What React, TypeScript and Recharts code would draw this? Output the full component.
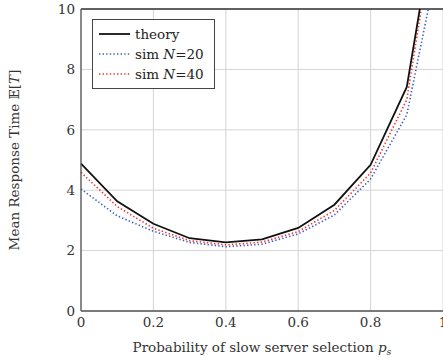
import { LineChart, Line, XAxis, YAxis, CartesianGrid, ReferenceLine } from "recharts";

const probs = [0, 0.1, 0.2, 0.3, 0.4, 0.5, 0.6, 0.7, 0.8, 0.9, 1.0];
const theory = [4.88, 3.63, 2.89, 2.41, 2.27, 2.37, 2.75, 3.52, 4.84, 7.42, 14.6];
const simN20 = [4.04, 3.15, 2.64, 2.27, 2.13, 2.21, 2.55, 3.18, 4.37, 6.5, 12.4];
const simN40 = [4.59, 3.46, 2.74, 2.33, 2.19, 2.28, 2.63, 3.33, 4.57, 7.0, 14.5];
const xTicks = [0, 0.2, 0.4, 0.6, 0.8, 1];
const yTicks = [0, 2, 4, 6, 8, 10];

const data = probs.map((p, i) => ({ p, theory: theory[i], n20: simN20[i], n40: simN40[i] }));

const FONT = "'DejaVu Serif', serif";
const BLUE = "#3d5fc4";
const RED = "#f03232";

function LegendBox() {
  const rows = [
    { name: "theory", color: "#111", dash: undefined as string | undefined, label: <>theory</> },
    { name: "n20", color: BLUE, dash: "1.4 2.2", label: <>sim <i>N</i>=20</> },
    { name: "n40", color: RED, dash: "1.4 2.2", label: <>sim <i>N</i>=40</> },
  ];
  return (
    <div
      style={{
        position: "absolute",
        left: 92,
        top: 19,
        width: 107,
        border: "1px solid #444",
        background: "#fff",
        padding: "4px 8px 4px 6px",
        fontFamily: FONT,
        fontSize: 13.5,
        color: "#222",
      }}
    >
      {rows.map((r) => (
        <div key={r.name} style={{ display: "flex", alignItems: "center", height: 20 }}>
          <svg width={31} height={6} style={{ marginRight: 5 }}>
            <line x1={0} y1={3} x2={31} y2={3} stroke={r.color} strokeWidth={r.dash ? 1.6 : 1.8} strokeDasharray={r.dash} />
          </svg>
          <span>{r.label}</span>
        </div>
      ))}
    </div>
  );
}

export default function App() {
  return (
    <div style={{ position: "absolute", left: 0, top: 0, width: 443, height: 360, overflow: "hidden", background: "#fff" }}>
      <LineChart width={470} height={360} data={data} margin={{ top: 9, right: 27, left: 0, bottom: 0 }}>
        <CartesianGrid stroke="#d4d4d4" strokeWidth={1} />
        <XAxis
          dataKey="p"
          type="number"
          domain={[0, 1]}
          ticks={xTicks}
          tickFormatter={(v: number) => String(v)}
          height={49}
          tickLine={false}
          tickSize={4}
          tickMargin={2}
          axisLine={{ stroke: "#555", strokeWidth: 1.3 }}
          tick={{ fontFamily: FONT, fontSize: 13.5, fill: "#333" }}
          label={{
            value: "Probability of slow server selection",
            content: () => (
              <text x={262} y={352} textAnchor="middle" fontFamily={FONT} fontSize={13.5} fill="#333">
                Probability of slow server selection{" "}
                <tspan fontStyle="italic">p</tspan>
                <tspan fontStyle="italic" fontSize={9.5} dy={3}>s</tspan>
              </text>
            ),
          }}
        />
        <YAxis
          type="number"
          domain={[0, 10]}
          ticks={yTicks}
          allowDataOverflow
          width={81}
          tickLine={false}
          tickSize={3}
          tickMargin={3}
          axisLine={{ stroke: "#555", strokeWidth: 1.3 }}
          tick={{ fontFamily: FONT, fontSize: 13.5, fill: "#333" }}
          label={{
            value: "Mean Response Time",
            content: () => (
              <text x={15} y={160} transform="rotate(-90 15 160)" textAnchor="middle" dominantBaseline="middle" fontFamily={FONT} fontSize={13.5} fill="#333">
                Mean Response Time 𝔼[<tspan fontStyle="italic">T</tspan>]
              </text>
            ),
          }}
        />
        <ReferenceLine y={10} stroke="#333" strokeWidth={1.3} />
        <Line type="linear" dataKey="n20" stroke={BLUE} strokeWidth={1.6} strokeDasharray="1.4 2.2" dot={false} isAnimationActive={false} />
        <Line type="linear" dataKey="n40" stroke={RED} strokeWidth={1.6} strokeDasharray="1.4 2.2" dot={false} isAnimationActive={false} />
        <Line type="linear" dataKey="theory" stroke="#111" strokeWidth={1.8} dot={false} isAnimationActive={false} />
      </LineChart>
      <LegendBox />
    </div>
  );
}
